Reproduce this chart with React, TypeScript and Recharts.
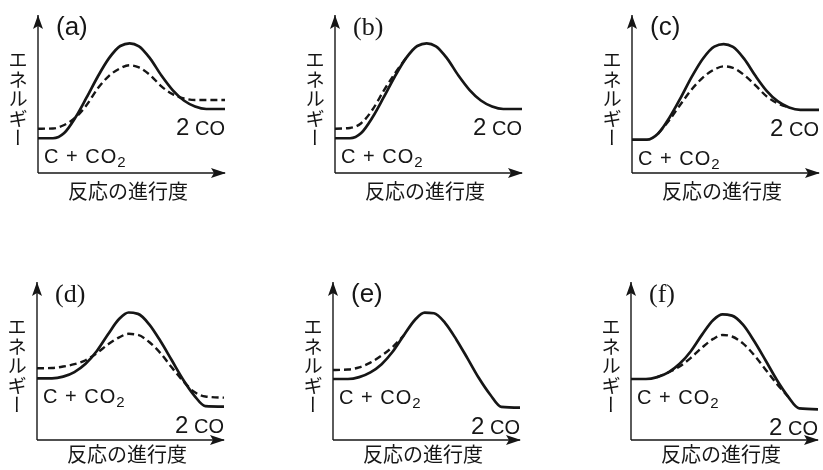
import React from "react";
import { LineChart, Line, XAxis, YAxis, ReferenceDot } from "recharts";

// reaction progress (0 = start, 100 = arrow tip), shared by every panel
const PROGRESS = [0, 8, 14, 20, 26, 32, 38, 44, 49, 54, 60, 66, 72, 78, 84, 90, 100];

// energy (0 = x axis, 100 = arrow tip); null = no dashed curve there
const SOLID_A = [22.0, 22.0, 25.3, 35.1, 47.8, 61.1, 72.7, 80.4, 82.1, 80.2, 72.4, 61.7, 52.5, 45.9, 42.1, 40.5, 40.5];
const DASHED_A = [28.0, 28.2, 30.4, 35.1, 43.0, 53.6, 61.5, 66.3, 68.2, 66.8, 61.9, 54.8, 49.9, 47.2, 46.2, 46.2, 46.2];

const SOLID_B = [22.0, 22.0, 25.3, 35.1, 47.8, 61.1, 72.7, 80.4, 82.1, 80.2, 72.4, 61.7, 52.5, 45.9, 42.1, 40.5, 40.5];
const DASHED_B = [28.0, 28.5, 31.5, 40.0, 52.0, 63.0, 72.7, null, null, null, null, null, null, null, null, null, null];

const SOLID_C = [21.1, 21.1, 25.0, 35.0, 47.5, 61.0, 72.5, 80.0, 81.6, 79.8, 72.2, 61.5, 52.0, 45.3, 41.5, 40.0, 40.0];
const DASHED_C = [null, null, 25.0, 33.5, 43.5, 53.0, 60.5, 65.5, 67.5, 66.5, 62.0, 55.5, 48.5, 44.0, 41.5, null, null];

const SOLID_D = [39.0, 39.0, 40.1, 43.0, 48.2, 56.3, 66.9, 76.7, 80.7, 79.8, 73.2, 62.6, 50.6, 38.5, 28.3, 21.5, 21.1];
const DASHED_D = [45.4, 45.6, 46.5, 48.0, 50.5, 55.0, 60.5, 65.0, 67.2, 66.5, 62.0, 55.0, 46.0, 37.5, 30.5, 27.5, 26.8];

const SOLID_E = [38.6, 38.6, 39.8, 42.8, 48.0, 56.0, 66.5, 76.3, 80.6, 80.2, 74.0, 63.5, 51.5, 39.2, 28.8, 21.0, 20.5];
const DASHED_E = [44.3, 44.6, 46.0, 49.0, 53.5, 59.0, 66.5, null, null, null, null, null, null, null, null, null, null];

const SOLID_F = [38.6, 38.6, 39.8, 42.8, 48.2, 56.2, 66.7, 76.0, 79.5, 78.7, 72.8, 62.3, 50.3, 38.0, 27.5, 20.0, 19.4];
const DASHED_F = [null, null, 39.8, 42.8, 46.5, 52.0, 58.5, 64.0, 66.5, 65.5, 61.0, 53.5, 44.5, 35.5, 27.5, null, null];

const TAGS = ["(a)", "(b)", "(c)", "(d)", "(e)", "(f)"];
const Y_LABEL = "エネルギー";
const X_LABEL = "反応の進行度";
const REACTANT = ["C + CO", "2"];
const PRODUCT = ["2", " CO"];

const INK = "#161616";
const JP = '"Noto Sans CJK JP", "Noto Sans", sans-serif';
const SANS = '"Liberation Sans", Arial, sans-serif';
const SERIF = '"Liberation Serif", "Times New Roman", serif';

const PLOT_W = 187;
const PLOT_H = 158;
// axes need a size of at least 1px or recharts skips them
const M = { top: 30, left: 44, right: 38, bottom: 51 };
const CW = M.left + 1 + PLOT_W + M.right;
const CH = M.top + PLOT_H + 1 + M.bottom;

// where each panel's axes cross on the page, and the x-title baseline below it
const ORIGINS = [
  [38, 173, 26],
  [335, 173, 26],
  [632, 173, 26],
  [37, 440, 22],
  [333, 440, 22],
  [631, 440, 22],
];

const PANELS = [
  { solid: SOLID_A, dashed: DASHED_A, serif: false },
  { solid: SOLID_B, dashed: DASHED_B, serif: true },
  { solid: SOLID_C, dashed: DASHED_C, serif: false },
  { solid: SOLID_D, dashed: DASHED_D, serif: true },
  { solid: SOLID_E, dashed: DASHED_E, serif: false },
  { solid: SOLID_F, dashed: DASHED_F, serif: true },
];

const UpArrow = (p: any) => (
  <path
    d={`M${p.cx},${p.cy} L${p.cx + 5},${p.cy + 14} L${p.cx},${p.cy + 11} L${p.cx - 5},${p.cy + 14} Z`}
    fill={INK}
  />
);
const RightArrow = (p: any) => (
  <path
    d={`M${p.cx + 1},${p.cy} L${p.cx - 14},${p.cy - 5} L${p.cx - 11},${p.cy} L${p.cx - 14},${p.cy + 5} Z`}
    fill={INK}
  />
);

function Panel({ idx }: { idx: number }) {
  const { solid, dashed, serif } = PANELS[idx];
  const [ox, oy, titleDy] = ORIGINS[idx];
  const data = PROGRESS.map((x, i) => ({ x, solid: solid[i], dashed: dashed[i] }));
  const reactant = solid[0];
  const product = solid[solid.length - 1];

  return (
    <div
      style={{
        position: "absolute",
        left: ox - M.left - 1,
        top: oy - PLOT_H - M.top,
        width: CW,
        height: CH,
        willChange: "transform",
      }}
    >
      <LineChart width={CW} height={CH} data={data} margin={M}>
        <XAxis
          type="number"
          dataKey="x"
          domain={[0, 100]}
          allowDataOverflow
          tick={false}
          tickLine={false}
          height={1}
          axisLine={{ stroke: INK, strokeWidth: 1.4 }}
          label={(p: any) => (
            <text
              x={p.viewBox.x + 90}
              y={p.viewBox.y + titleDy}
              textAnchor="middle"
              fontFamily={JP}
              fontSize={20}
              fill={INK}
            >
              {X_LABEL}
            </text>
          )}
        />
        <YAxis
          type="number"
          domain={[0, 100]}
          allowDataOverflow
          tick={false}
          tickLine={false}
          width={1}
          axisLine={{ stroke: INK, strokeWidth: 1.4 }}
          label={(p: any) => (
            <g>
              <text
                x={p.viewBox.x + 1 - 20}
                y={p.viewBox.y + PLOT_H - 74}
                textAnchor="middle"
                fontFamily={JP}
                fontSize={19.5}
                fill={INK}
                style={{ writingMode: "vertical-rl" }}
              >
                {Y_LABEL}
              </text>
              <text
                x={p.viewBox.x + 1 + 18}
                y={p.viewBox.y + 20}
                fontFamily={serif ? SERIF : SANS}
                fontSize={26}
                fill={INK}
              >
                {TAGS[idx]}
              </text>
            </g>
          )}
        />
        <Line
          dataKey="dashed"
          type="monotone"
          stroke={INK}
          strokeWidth={2.4}
          strokeDasharray="7 4"
          dot={false}
          activeDot={false}
          isAnimationActive={false}
        />
        <Line
          dataKey="solid"
          type="monotone"
          stroke={INK}
          strokeWidth={2.7}
          dot={false}
          activeDot={false}
          isAnimationActive={false}
        />
        <ReferenceDot x={0} y={100} r={0} ifOverflow="visible" shape={UpArrow} />
        <ReferenceDot x={100} y={0} r={0} ifOverflow="visible" shape={RightArrow} />
        <ReferenceDot
          x={0}
          y={reactant}
          r={0}
          shape={(p: any) => (
            <text x={p.cx + 6} y={p.cy + 25} fontFamily={SANS} fontSize={20} letterSpacing={1} fill={INK}>
              {REACTANT[0]}
              <tspan fontSize={15} dy={4}>
                {REACTANT[1]}
              </tspan>
            </text>
          )}
        />
        <ReferenceDot
          x={100}
          y={product}
          r={0}
          shape={(p: any) => (
            <text x={p.cx} y={p.cy + 26} textAnchor="end" fontFamily={SANS} fill={INK}>
              <tspan fontSize={24}>{PRODUCT[0]}</tspan>
              <tspan fontSize={20}>{PRODUCT[1]}</tspan>
            </text>
          )}
        />
      </LineChart>
    </div>
  );
}

export default function App() {
  return (
    <div
      style={{
        position: "absolute",
        left: 0,
        top: 0,
        width: 823,
        height: 470,
        overflow: "hidden",
        background: "#fff",
      }}
    >
      {PANELS.map((_, i) => (
        <Panel key={i} idx={i} />
      ))}
    </div>
  );
}
